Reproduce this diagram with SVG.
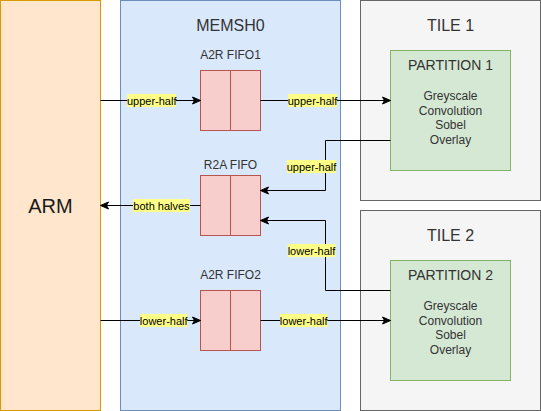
<svg xmlns="http://www.w3.org/2000/svg" width="541" height="411" viewBox="0 0 541 411">
<defs>
<style>
text{font-family:"Liberation Sans",Arial,sans-serif;text-anchor:middle}
.arm{fill:#ffe6cc;stroke:#d79b00}
.mem{fill:#dae8fc;stroke:#6c8ebf}
.fifo{fill:#f8cecc;stroke:#b85450}
.tile{fill:#f5f5f5;stroke:#666666}
.part{fill:#d5e8d4;stroke:#82b366}
.t12{font-size:12px;fill:#333333}
.t14{font-size:14px;fill:#333333}
.t16{font-size:16px;fill:#333333}
.edge{fill:none;stroke:#000000;stroke-width:1}
.lbg{fill:#ffff88;stroke:none}
.lbl{font-size:11px;fill:#000000}
</style>
<marker id="arr" markerUnits="userSpaceOnUse" markerWidth="10" markerHeight="10" refX="8" refY="4" orient="auto" overflow="visible">
<path d="M0,0.5 L8,4 L0,7.5 L2,4 Z" fill="#000" stroke="#000" stroke-width="1" stroke-linejoin="miter"/>
</marker>
</defs>
<g id="arm"><rect class="arm" x="0.5" y="0.5" width="100" height="410"/><text x="50.5" y="213" style="font-size:20px;fill:#1a1a1a">ARM</text></g>
<g id="memsh0"><rect class="mem" x="120.5" y="0.5" width="220" height="410"/><text class="t16" x="230.5" y="31">MEMSH0</text></g>
<g id="tile1"><rect class="tile" x="360.5" y="0.5" width="180" height="200"/><text class="t16" x="450.5" y="31">TILE 1</text></g>
<g id="tile2"><rect class="tile" x="360.5" y="210.5" width="180" height="200"/><text class="t16" x="450.5" y="241">TILE 2</text></g>
<g id="partition1"><rect class="part" x="390.5" y="50.5" width="120" height="120"/><text class="t14" x="450.5" y="70">PARTITION 1</text>
<text class="t12" x="450.5" y="100">Greyscale</text><text class="t12" x="450.5" y="114.5">Convolution</text><text class="t12" x="450.5" y="129">Sobel</text><text class="t12" x="450.5" y="143.5">Overlay</text></g>
<g id="partition2"><rect class="part" x="390.5" y="260.5" width="120" height="120"/><text class="t14" x="450.5" y="280">PARTITION 2</text>
<text class="t12" x="450.5" y="310">Greyscale</text><text class="t12" x="450.5" y="324.5">Convolution</text><text class="t12" x="450.5" y="339">Sobel</text><text class="t12" x="450.5" y="353.5">Overlay</text></g>
<g id="a2rfifo1"><text class="t12" x="230.5" y="59">A2R FIFO1</text><rect class="fifo" x="200.5" y="70.5" width="60" height="60"/><line class="fifo" x1="230.5" y1="70.5" x2="230.5" y2="130.5"/></g>
<g id="r2afifo"><text class="t12" x="230.5" y="169">R2A FIFO</text><rect class="fifo" x="200.5" y="175.5" width="60" height="60"/><line class="fifo" x1="230.5" y1="175.5" x2="230.5" y2="235.5"/></g>
<g id="a2rfifo2"><text class="t12" x="230.5" y="279">A2R FIFO2</text><rect class="fifo" x="200.5" y="290.5" width="60" height="60"/><line class="fifo" x1="230.5" y1="290.5" x2="230.5" y2="350.5"/></g>
<g id="connectors">
<path class="edge" d="M100.5,100.5 H200.5" marker-end="url(#arr)"/>
<path class="edge" d="M260.5,100.5 H390.5" marker-end="url(#arr)"/>
<path class="edge" d="M390.5,140.5 H325.5 V190.5 H260.5" marker-end="url(#arr)"/>
<path class="edge" d="M390.5,290.5 H325.5 V220.5 H260.5" marker-end="url(#arr)"/>
<path class="edge" d="M200.5,205.5 H100.5" marker-end="url(#arr)"/>
<path class="edge" d="M100.5,320.5 H200.5" marker-end="url(#arr)"/>
<path class="edge" d="M260.5,320.5 H390.5" marker-end="url(#arr)"/>
<rect class="lbg" x="127.3" y="94" width="48.7" height="13"/><text class="lbl" x="151.7" y="104.5">upper-half</text>
<rect class="lbg" x="288" y="94" width="49" height="13"/><text class="lbl" x="312.5" y="104.5">upper-half</text>
<rect class="lbg" x="287" y="160" width="49" height="13"/><text class="lbl" x="311.5" y="170.5">upper-half</text>
<rect class="lbg" x="133" y="199" width="57" height="13"/><text class="lbl" x="161.5" y="209.5">both halves</text>
<rect class="lbg" x="287.7" y="244" width="47.6" height="13"/><text class="lbl" x="311.5" y="254.5">lower-half</text>
<rect class="lbg" x="140" y="314" width="47.3" height="13"/><text class="lbl" x="163.7" y="324.5">lower-half</text>
<rect class="lbg" x="280" y="314" width="47.3" height="13"/><text class="lbl" x="303.7" y="324.5">lower-half</text>
</g>
</svg>
